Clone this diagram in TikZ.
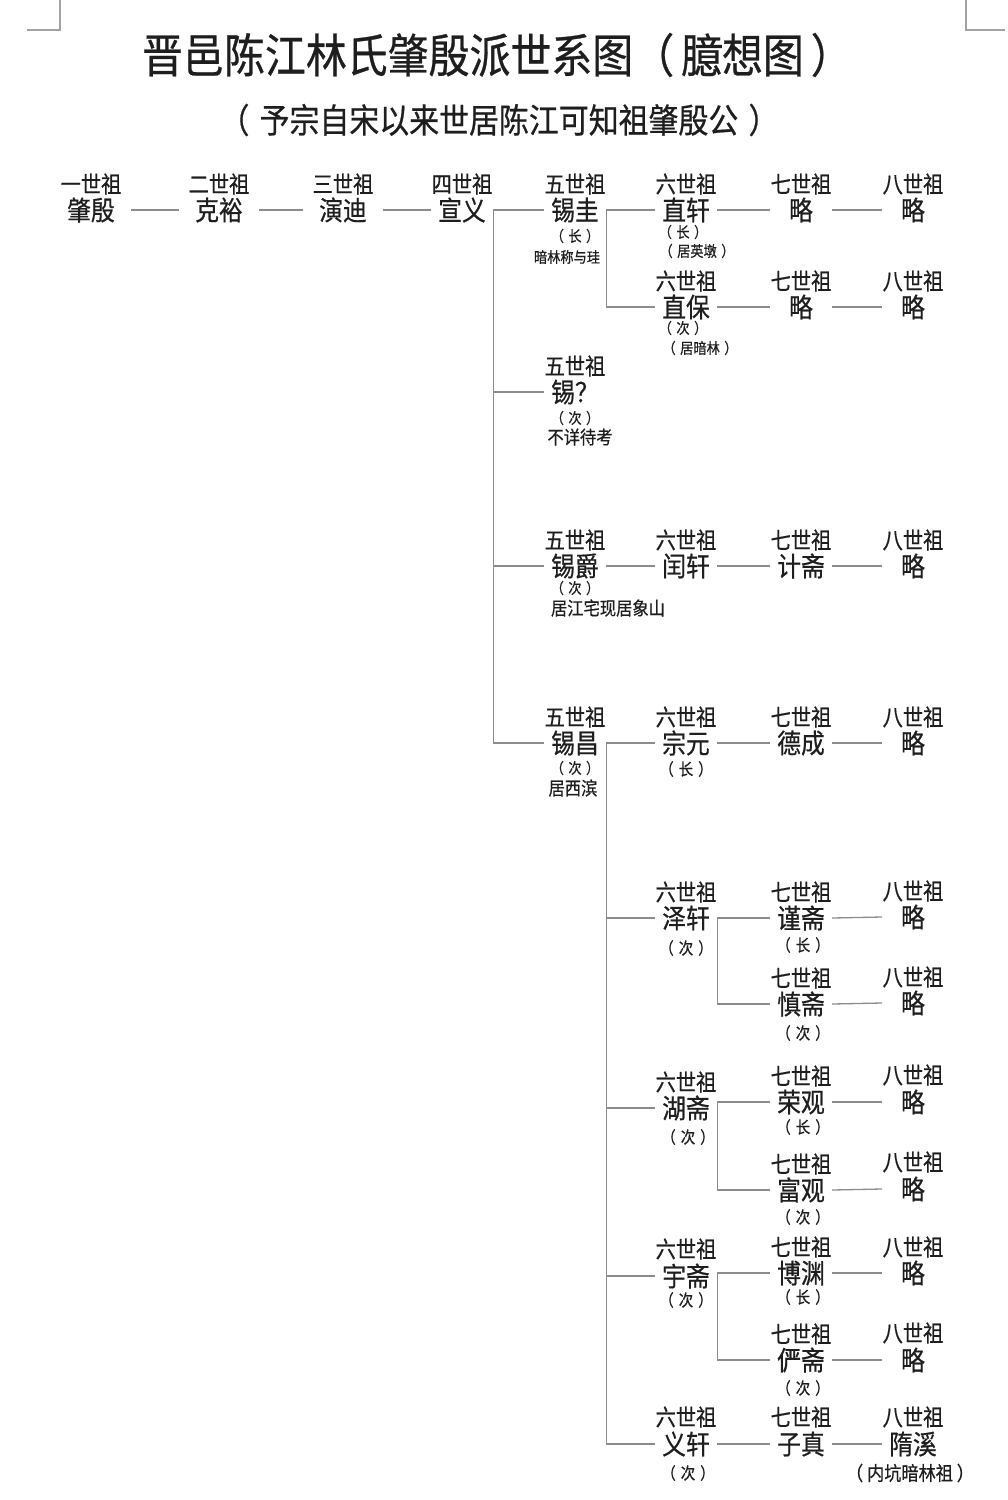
\documentclass[tikz,border=0pt]{standalone}
\usepackage{fontspec}
\setmainfont{Noto Sans CJK SC}[FakeStretch=0.88, FakeBold=0.6]
\definecolor{ink}{HTML}{1E1E1E}
\definecolor{wire}{HTML}{8C8C8C}
\newcommand\pzn[1]{（\kern0.3em#1\kern0.3em）}
\begin{document}
\begin{tikzpicture}[x=1pt,y=-1pt,
  every node/.style={text=ink, inner sep=0pt},
  gen/.style={font=\fontsize{23}{23}\selectfont},
  nm/.style={font=\fontsize{27}{27}\selectfont, minimum width=62pt},
  nmw/.style={nm, minimum width=80pt},
  sm/.style={font=\fontsize{15}{15}\selectfont},
  md/.style={font=\fontsize{16.5}{16.5}\selectfont},
  lg/.style={font=\fontsize{18.5}{18.5}\selectfont},
  link/.style={draw=wire, line width=1.3pt},
  cornermark/.style={draw=wire!80, line width=1.2pt}]
\useasboundingbox (0,0) rectangle (1008,1500);
% corner marks
\draw[cornermark] (60,0) -- (60,30) -- (27,30);
\draw[cornermark] (966,0) -- (966,30) -- (1005,30);
% titles
\node[font=\fontsize{46.5}{46.5}\selectfont] (title) at (497,55) {晋邑陈江林氏肇殷派世系图（\kern0.15em臆想图\kern0.15em）};
\node[font=\fontsize{34}{34}\selectfont] (subtitle) at (499,120) {\pzn{予宗自宋以来世居陈江可知祖肇殷公}};
% ---------- row 1 ----------
\node[gen] (g1) at (91,184) {一世祖};
\node[nmw] (p1) at (91,210) {肇殷};
\node[gen] (g2) at (219,184) {二世祖};
\node[nmw] (p2) at (219,210) {克裕};
\node[gen] (g3) at (343,184) {三世祖};
\node[nmw] (p3) at (343,210) {演迪};
\node[gen] (g4) at (462,184) {四世祖};
\node[nm]  (p4) at (462,210) {宣义};
\node[gen] (g5a) at (575,184) {五世祖};
\node[nm]  (p5a) at (575,210) {锡圭};
\node[sm]  (n5a1) at (575,236) {\pzn{长}};
\node[sm]  (n5a2) at (567,257) {暗林称与珪};
\node[gen] (g6a) at (686,184) {六世祖};
\node[nm]  (p6a) at (686,210) {直轩};
\node[sm]  (n6a1) at (683,232) {\pzn{长}};
\node[sm]  (n6a2) at (697,251) {\pzn{居英墩}};
\node[gen] (g7a) at (801,184) {七世祖};
\node[nm]  (p7a) at (801,210) {略};
\node[gen] (g8a) at (913,184) {八世祖};
\node[nm]  (p8a) at (913,210) {略};
% ---------- 直保 ----------
\node[gen] (g6b) at (686,281) {六世祖};
\node[nm]  (p6b) at (686,307) {直保};
\node[sm]  (n6b1) at (683,328) {\pzn{次}};
\node[sm]  (n6b2) at (700,348) {\pzn{居暗林}};
\node[gen] (g7b) at (801,281) {七世祖};
\node[nm]  (p7b) at (801,307) {略};
\node[gen] (g8b) at (913,281) {八世祖};
\node[nm]  (p8b) at (913,307) {略};
% ---------- 锡？ ----------
\node[gen] (g5b) at (575,366) {五世祖};
\node[nm]  (p5b) at (575,392) {锡？};
\node[sm]  (n5b1) at (575,418) {\pzn{次}};
\node[lg]  (n5b2) at (580,437) {不详待考};
% ---------- 锡爵 ----------
\node[gen] (g5c) at (575,540) {五世祖};
\node[nm]  (p5c) at (575,566) {锡爵};
\node[sm]  (n5c1) at (575,588) {\pzn{次}};
\node[lg]  (n5c2) at (608,608) {居江宅现居象山};
\node[gen] (g6c) at (686,540) {六世祖};
\node[nm]  (p6c) at (686,566) {闰轩};
\node[gen] (g7c) at (801,540) {七世祖};
\node[nm]  (p7c) at (801,566) {计斋};
\node[gen] (g8c) at (913,540) {八世祖};
\node[nm]  (p8c) at (913,566) {略};
% ---------- 锡昌 ----------
\node[gen] (g5d) at (575,717) {五世祖};
\node[nm]  (p5d) at (575,743) {锡昌};
\node[sm]  (n5d1) at (575,768) {\pzn{次}};
\node[lg]  (n5d2) at (573,788) {居西滨};
\node[gen] (g6d) at (686,717) {六世祖};
\node[nm]  (p6d) at (686,743) {宗元};
\node[md]  (n6d1) at (686,769) {\pzn{长}};
\node[gen] (g7d) at (801,717) {七世祖};
\node[nm]  (p7d) at (801,743) {德成};
\node[gen] (g8d) at (913,717) {八世祖};
\node[nm]  (p8d) at (913,743) {略};
% ---------- 泽轩 ----------
\node[gen] (g6e) at (686,892) {六世祖};
\node[nm]  (p6e) at (686,918) {泽轩};
\node[md]  (n6e1) at (686,948) {\pzn{次}};
\node[gen] (g7e) at (801,892) {七世祖};
\node[nm]  (p7e) at (801,918) {谨斋};
\node[md]  (n7e1) at (803,945) {\pzn{长}};
\node[gen] (g8e) at (913,891) {八世祖};
\node[nm]  (p8e) at (913,917) {略};
\node[gen] (g7f) at (801,978) {七世祖};
\node[nm]  (p7f) at (801,1004) {慎斋};
\node[md]  (n7f1) at (803,1033) {\pzn{次}};
\node[gen] (g8f) at (913,977) {八世祖};
\node[nm]  (p8f) at (913,1003) {略};
% ---------- 湖斋 ----------
\node[gen] (g6g) at (686,1082) {六世祖};
\node[nm]  (p6g) at (686,1108) {湖斋};
\node[md]  (n6g1) at (688,1137) {\pzn{次}};
\node[gen] (g7g) at (801,1076) {七世祖};
\node[nm]  (p7g) at (801,1102) {荣观};
\node[md]  (n7g1) at (803,1127) {\pzn{长}};
\node[gen] (g8g) at (913,1075) {八世祖};
\node[nm]  (p8g) at (913,1102) {略};
\node[gen] (g7h) at (801,1164) {七世祖};
\node[nm]  (p7h) at (801,1190) {富观};
\node[md]  (n7h1) at (803,1217) {\pzn{次}};
\node[gen] (g8h) at (913,1162) {八世祖};
\node[nm]  (p8h) at (913,1189) {略};
% ---------- 宇斋 ----------
\node[gen] (g6i) at (686,1249) {六世祖};
\node[nm]  (p6i) at (686,1276) {宇斋};
\node[md]  (n6i1) at (686,1300) {\pzn{次}};
\node[gen] (g7i) at (801,1247) {七世祖};
\node[nm]  (p7i) at (801,1273) {博渊};
\node[md]  (n7i1) at (803,1297) {\pzn{长}};
\node[gen] (g8i) at (913,1247) {八世祖};
\node[nm]  (p8i) at (913,1273) {略};
\node[gen] (g7j) at (801,1334) {七世祖};
\node[nm]  (p7j) at (801,1360) {俨斋};
\node[md]  (n7j1) at (803,1388) {\pzn{次}};
\node[gen] (g8j) at (913,1333) {八世祖};
\node[nm]  (p8j) at (913,1360) {略};
% ---------- 义轩 ----------
\node[gen] (g6k) at (686,1417) {六世祖};
\node[nm]  (p6k) at (686,1444) {义轩};
\node[md]  (n6k1) at (688,1473) {\pzn{次}};
\node[gen] (g7k) at (801,1417) {七世祖};
\node[nm]  (p7k) at (801,1444) {子真};
\node[gen] (g8k) at (913,1417) {八世祖};
\node[nm]  (p8k) at (913,1444) {隋溪};
\node[font=\fontsize{19.5}{19.5}\selectfont] (n8k1) at (910,1473) {（\kern0.2em内坑暗林祖\kern0.2em）};
% ---------- connectors ----------
\draw[link] (p1.east) -- (p2.west);
\draw[link] (p2.east) -- (p3.west);
\draw[link] (p3.east) -- (p4.west);
\draw[link] (p4.east) |- (p5a.west);
\draw[link] (p4.east) |- (p5b.west);
\draw[link] (p4.east) |- (p5c.west);
\draw[link] (p4.east) |- (p5d.west);
\draw[link] (p5a.east) |- (p6a.west);
\draw[link] (p5a.east) |- (p6b.west);
\draw[link] (p6a.east) -- (p7a.west);
\draw[link] (p7a.east) -- (p8a.west);
\draw[link] (p6b.east) -- (p7b.west);
\draw[link] (p7b.east) -- (p8b.west);
\draw[link] (p5c.east) -- (p6c.west);
\draw[link] (p6c.east) -- (p7c.west);
\draw[link] (p7c.east) -- (p8c.west);
\draw[link] (p5d.east) |- (p6d.west);
\draw[link] (p5d.east) |- (p6e.west);
\draw[link] (p5d.east) |- (p6g.west);
\draw[link] (p5d.east) |- (p6i.west);
\draw[link] (p5d.east) |- (p6k.west);
\draw[link] (p6d.east) -- (p7d.west);
\draw[link] (p7d.east) -- (p8d.west);
\draw[link] (p6e.east) |- (p7e.west);
\draw[link] (p6e.east) |- (p7f.west);
\draw[link] (p7e.east) -- (p8e.west);
\draw[link] (p7f.east) -- (p8f.west);
\draw[link] (p6g.east) |- (p7g.west);
\draw[link] (p6g.east) |- (p7h.west);
\draw[link] (p7g.east) -- (p8g.west);
\draw[link] (p7h.east) -- (p8h.west);
\draw[link] (p6i.east) |- (p7i.west);
\draw[link] (p6i.east) |- (p7j.west);
\draw[link] (p7i.east) -- (p8i.west);
\draw[link] (p7j.east) -- (p8j.west);
\draw[link] (p6k.east) -- (p7k.west);
\draw[link] (p7k.east) -- (p8k.west);
\end{tikzpicture}
\end{document}
